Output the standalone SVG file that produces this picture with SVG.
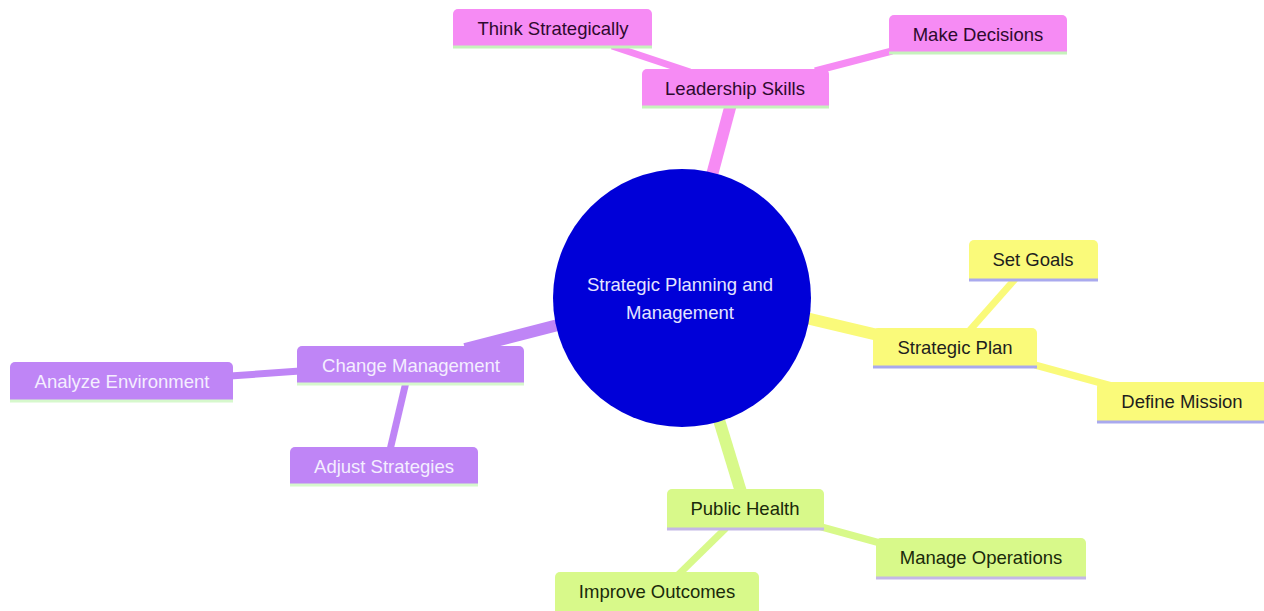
<svg xmlns="http://www.w3.org/2000/svg" width="1264" height="611" viewBox="0 0 1264 611">
<style>
  text { font-family: "Liberation Sans", Arial, sans-serif; font-size: 18.5px; text-anchor: middle; dominant-baseline: central; }
  .edge { fill: none; stroke-linecap: butt; }
  .d1 { stroke-width: 12; }
  .d2 { stroke-width: 7; }
  .pink { fill: #f68bf4; }
  .pinkE { stroke: #f68bf4; }
  .pinkL { stroke: #c6f2bc; stroke-width: 3; }
  .pinkT { fill: #2e0a2e; }
  .yel { fill: #fafa7a; }
  .yelE { stroke: #fafa7a; }
  .yelL { stroke: #a9a9ee; stroke-width: 3; }
  .yelT { fill: #1e1e1e; }
  .grn { fill: #d8f98a; }
  .grnE { stroke: #d8f98a; }
  .grnL { stroke: #c4b8e6; stroke-width: 3; }
  .grnT { fill: #1a2a0a; }
  .pur { fill: #bf85f6; }
  .purE { stroke: #bf85f6; }
  .purL { stroke: #d6f8cc; stroke-width: 3; }
  .purT { fill: #f4eeff; }
</style>
<rect width="1264" height="611" fill="#ffffff"/>
<g id="connectors">
  <line class="edge d1 pinkE" x1="712" y1="175" x2="731" y2="104"/>
  <line class="edge d2 pinkE" x1="690" y1="72" x2="612" y2="46"/>
  <line class="edge d2 pinkE" x1="815" y1="71" x2="892" y2="51"/>
  <line class="edge d1 yelE" x1="806" y1="318" x2="882" y2="336"/>
  <line class="edge d2 yelE" x1="970" y1="330" x2="1016" y2="278"/>
  <line class="edge d2 yelE" x1="1035" y1="365" x2="1112" y2="386"/>
  <line class="edge d1 grnE" x1="719" y1="420" x2="741" y2="492"/>
  <line class="edge d2 grnE" x1="818" y1="526" x2="880" y2="543"/>
  <line class="edge d2 grnE" x1="726" y1="528" x2="677" y2="576"/>
  <line class="edge d1 purE" x1="465" y1="349" x2="558" y2="325"/>
  <line class="edge d2 purE" x1="230" y1="376" x2="300" y2="371"/>
  <line class="edge d2 purE" x1="406" y1="382" x2="390" y2="450"/>
</g>
<g id="root">
  <circle cx="682" cy="298" r="129" fill="#0000d8"/>
  <text x="680" y="284" fill="#e4e4ff">Strategic Planning and</text>
  <text x="680" y="312" fill="#e4e4ff">Management</text>
</g>
<g id="leadership-skills">
  <path class="pink" d="M642 106 V74 a5 5 0 0 1 5 -5 H824 a5 5 0 0 1 5 5 V106 Z"/>
  <line class="pinkL" x1="642" y1="107" x2="829" y2="107"/>
  <text class="pinkT" x="735" y="88">Leadership Skills</text>
</g>
<g id="think-strategically">
  <path class="pink" d="M453 46 V14 a5 5 0 0 1 5 -5 H647 a5 5 0 0 1 5 5 V46 Z"/>
  <line class="pinkL" x1="453" y1="47" x2="652" y2="47"/>
  <text class="pinkT" x="553" y="28">Think Strategically</text>
</g>
<g id="make-decisions">
  <path class="pink" d="M889 52 V20 a5 5 0 0 1 5 -5 H1062 a5 5 0 0 1 5 5 V52 Z"/>
  <line class="pinkL" x1="889" y1="53" x2="1067" y2="53"/>
  <text class="pinkT" x="978" y="34">Make Decisions</text>
</g>
<g id="strategic-plan">
  <path class="yel" d="M873 366 V333 a5 5 0 0 1 5 -5 H1032 a5 5 0 0 1 5 5 V366 Z"/>
  <line class="yelL" x1="873" y1="367" x2="1037" y2="367"/>
  <text class="yelT" x="955" y="347">Strategic Plan</text>
</g>
<g id="set-goals">
  <path class="yel" d="M969 279 V245 a5 5 0 0 1 5 -5 H1093 a5 5 0 0 1 5 5 V279 Z"/>
  <line class="yelL" x1="969" y1="280" x2="1098" y2="280"/>
  <text class="yelT" x="1033" y="259">Set Goals</text>
</g>
<g id="define-mission">
  <path class="yel" d="M1097 421 V387 a5 5 0 0 1 5 -5 H1264 V421 Z"/>
  <line class="yelL" x1="1097" y1="422" x2="1264" y2="422"/>
  <text class="yelT" x="1182" y="401">Define Mission</text>
</g>
<g id="public-health">
  <path class="grn" d="M667 528 V494 a5 5 0 0 1 5 -5 H819 a5 5 0 0 1 5 5 V528 Z"/>
  <line class="grnL" x1="667" y1="529" x2="824" y2="529"/>
  <text class="grnT" x="745" y="508">Public Health</text>
</g>
<g id="manage-operations">
  <path class="grn" d="M876 577 V543 a5 5 0 0 1 5 -5 H1081 a5 5 0 0 1 5 5 V577 Z"/>
  <line class="grnL" x1="876" y1="578" x2="1086" y2="578"/>
  <text class="grnT" x="981" y="557">Manage Operations</text>
</g>
<g id="improve-outcomes">
  <path class="grn" d="M555 611 V577 a5 5 0 0 1 5 -5 H754 a5 5 0 0 1 5 5 V611 Z"/>
  <text class="grnT" x="657" y="591">Improve Outcomes</text>
</g>
<g id="change-management">
  <path class="pur" d="M297 383 V351 a5 5 0 0 1 5 -5 H519 a5 5 0 0 1 5 5 V383 Z"/>
  <line class="purL" x1="297" y1="384" x2="524" y2="384"/>
  <text class="purT" x="411" y="365">Change Management</text>
</g>
<g id="analyze-environment">
  <path class="pur" d="M10 400 V367 a5 5 0 0 1 5 -5 H228 a5 5 0 0 1 5 5 V400 Z"/>
  <line class="purL" x1="10" y1="401" x2="233" y2="401"/>
  <text class="purT" x="122" y="381">Analyze Environment</text>
</g>
<g id="adjust-strategies">
  <path class="pur" d="M290 484 V452 a5 5 0 0 1 5 -5 H473 a5 5 0 0 1 5 5 V484 Z"/>
  <line class="purL" x1="290" y1="485" x2="478" y2="485"/>
  <text class="purT" x="384" y="466">Adjust Strategies</text>
</g>
</svg>
